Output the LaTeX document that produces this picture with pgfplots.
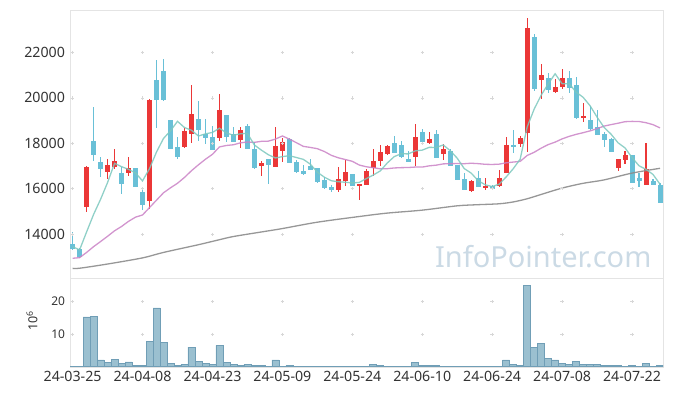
\documentclass[border=0pt]{standalone}
\usepackage{pgfplots}
\pgfplotsset{compat=1.18}
\usepackage{pgfplotstable}
\usepackage{fontspec}
\setmainfont{Noto Sans}

\definecolor{upc}{RGB}{235,55,55}
\definecolor{dnc}{RGB}{105,192,215}
\definecolor{maA}{RGB}{125,200,190}
\definecolor{maB}{RGB}{202,130,198}
\definecolor{maC}{RGB}{140,140,140}
\definecolor{volf}{RGB}{155,192,208}
\definecolor{vole}{RGB}{112,158,182}
\definecolor{framec}{RGB}{228,228,228}
\definecolor{gridc}{RGB}{215,215,215}
\definecolor{wmc}{RGB}{203,218,229}
\definecolor{lblc}{RGB}{51,51,51}

% i open high low close
\pgfplotstableread{
i o h l c
2 15209 16990 14988 16958
5 16752 17296 16414 17046
6 16973 17752 16855 17222
8 16679 17399 16576 16899
11 15473 19930 15106 19913
16 17840 18678 17810 18545
17 18428 20559 18016 19295
21 18222 20162 18119 19472
24 18134 18722 17810 18590
27 17017 17237 16576 17134
29 16973 18722 16973 17884
30 17678 18252 17193 18060
38 15958 16943 15870 16429
39 16355 17266 16135 16723
41 16140 16210 15500 16190
42 16179 16884 16179 16767
43 16929 17766 16576 17222
44 17237 17943 17002 17619
45 17516 17913 17472 17884
49 17384 18854 17002 18281
51 18002 18516 17990 18207
53 17531 17958 17266 17752
57 15914 16399 15870 16341
59 16040 16458 15958 16120
61 16105 16826 16090 16458
62 16679 18296 16679 17928
64 17987 18325 17825 18222
65 18472 23514 17634 23073
67 20765 21500 19957 21000
69 20236 20839 20200 20486
70 20471 21265 20383 20883
73 19119 19766 18942 19207
78 16929 17310 16767 17310
79 17281 17678 17090 17487
82 16179 18016 16179 16855
}\up

\pgfplotstableread{
i o h l c
0 13592 14077 13327 13356
1 13356 13400 12950 12989
3 18104 19604 17222 17487
4 17178 17399 16502 16884
7 16693 16973 15752 16223
9 16899 16899 16091 16091
10 15855 15988 15062 15297
12 20795 21677 18663 19883
13 21192 21721 19840 19883
14 19030 19030 17770 17770
15 17840 18281 17325 17384
18 19075 19869 18105 18604
19 18428 19060 17972 18252
20 18281 18781 17693 17693
22 19236 19236 18075 18266
23 18413 18737 18075 18075
25 18766 18869 17766 17766
26 17752 18075 16884 16929
28 17296 17296 16193 17061
31 18193 18222 17134 17134
32 17178 17266 16708 16737
33 16767 17031 16605 16649
34 17002 17296 16826 16826
35 16914 16914 16252 16296
36 16385 16532 16002 16047
37 16076 16164 15855 15944
40 16635 16635 16135 16135
46 18016 18310 17590 17590
47 17928 18090 17340 17384
48 17310 17649 17193 17193
50 18501 18648 18046 18046
52 18413 18590 17355 17355
54 17678 17737 17017 17017
55 17046 17046 16399 16399
56 16429 16679 15929 15929
58 16458 16767 16091 16091
60 16120 16179 16002 16002
63 17920 18590 17560 17870
66 22676 22823 20295 20398
68 20883 21103 20207 20339
71 20883 21177 20221 20412
72 20574 20912 19060 19134
74 19031 19619 18600 18619
75 18722 19472 18354 18384
76 18399 18516 17840 18163
77 18193 18222 17634 17634
80 17487 17487 16267 16267
81 16488 16679 16091 16355
83 16340 16443 16179 16179
84 16164 16237 15356 15356
}\down

\pgfplotstableread{
i ma5 ma20
0 13456 12942
1 13310 12971
2 14100 13199
3 14870 13454
4 15535 13678
5 16273 13910
6 17119 14151
7 16972 14342
8 16855 14567
9 16696 14752
10 16346 14847
11 16885 15173
12 17617 15498
13 18213 15823
14 18549 16042
15 18967 16241
16 18693 16499
17 18575 16794
18 18320 17055
19 18416 17299
20 18478 17516
21 18663 17840
22 18457 17905
23 18352 17935
24 18419 18020
25 18434 18056
26 17925 18042
27 17699 18087
28 17496 18095
29 17355 18185
30 17414 18323
31 17455 18184
32 17375 18027
33 17293 17865
34 17081 17818
35 16728 17763
36 16511 17639
37 16352 17471
38 16308 17362
39 16288 17286
40 16256 17208
41 16282 17043
42 16447 16968
43 16605 16926
44 16785 16877
45 17134 16883
46 17416 16916
47 17540 16929
48 17534 16935
49 17666 16955
50 17699 16954
51 17822 17008
52 17816 17039
53 17928 17094
54 17675 17104
55 17346 17109
56 16890 17103
57 16688 17123
58 16355 17106
59 16176 17076
60 16097 17069
61 16202 17083
62 16520 17141
63 16878 17174
64 17299 17204
65 18713 17464
66 19501 17604
67 20115 17785
68 20606 17942
69 21059 18052
70 20621 18194
71 20624 18304
72 20251 18393
73 20024 18466
74 19651 18546
75 19151 18646
76 18701 18757
77 18401 18822
78 18022 18883
79 17796 18951
80 17372 18964
81 17011 18959
82 16855 18906
83 16629 18820
84 16202 18677
}\mas

\pgfplotstableread{
i ma
0 12500
1 12505
5 12690
10 12960
13 13200
18 13540
21 13760
23 13900
27 14100
30 14250
35 14530
41 14780
45 14930
50 15060
55 15250
58 15300
61 15340
63 15420
65 15560
67 15750
70 16030
73 16240
76 16390
80 16690
84 16900
}\malong

\pgfplotstableread{
i v
0 0.2
1 0.2
2 15.3
3 15.6
4 2.1
5 1.35
6 2.3
7 1.0
8 1.45
9 0.4
10 0.4
11 7.9
12 18.1
13 7.6
14 1.0
15 0.4
16 0.7
17 6.0
18 1.65
19 1.0
20 0.7
21 6.6
22 1.35
23 0.7
24 0.4
25 0.7
26 0.4
27 0.4
28 0.15
29 2.1
30 0.15
31 0.4
32 0.15
33 0.1
34 0.1
35 0.1
36 0.1
37 0.05
38 0.15
39 0.15
40 0.05
41 0.1
42 0.1
43 0.7
44 0.4
45 0.1
46 0.1
47 0.1
48 0.1
49 1.35
50 0.4
51 0.4
52 0.4
53 0.1
54 0.1
55 0.1
56 0.1
57 0.1
58 0.1
59 0.1
60 0.05
61 0.1
62 2.1
63 0.7
64 0.4
65 25.0
66 6.0
67 7.05
68 2.6
69 2.1
70 1.0
71 0.7
72 1.65
73 0.7
74 0.7
75 0.7
76 0.4
77 0.4
78 0.4
79 0.1
80 0.4
81 0.1
82 1.0
83 0.1
84 0.4
}\vol

\pgfplotsset{
  common/.style={
    width=593bp, scale only axis,
    xmin=-0.37, xmax=84.43,
    axis line style={draw=framec},
    major tick length=0pt,
    tick style={draw=none},
    xtick={0,10,...,80},
    ticklabel style={text=lblc},
    scaled x ticks=false, scaled y ticks=false,
    clip=true,
  },
}

\begin{document}
\begin{tikzpicture}[x=1bp,y=1bp]
\useasboundingbox (0,0) rectangle (673,396);

% price panel
\begin{axis}[common,
  at={(70bp,117.7bp)}, anchor=south west, height=268bp,
  ymin=12062, ymax=23850,
  xticklabels={},
  ytick={14000,16000,18000,20000,22000},
  yticklabels={14000,16000,18000,20000,22000},
  yticklabel style={font=\fontsize{14.2bp}{16bp}\selectfont, xshift=-1.5bp},
]
\pgfplotsinvokeforeach{0,10,...,80}{
  \addplot[forget plot, only marks, mark=+, mark size=1.7bp, gridc, line width=0.6bp]
    coordinates {(#1,14000) (#1,16000) (#1,18000) (#1,20000) (#1,22000)};
}
\node[anchor=center, text=wmc, font=\fontsize{29bp}{32bp}\selectfont]
  at (axis cs:67.3,13000) {InfoPointer.com};

% wicks
\addplot[forget plot, draw=none, mark=none, error bars/.cd, y dir=both, y explicit,
  error mark=none, error bar style={draw=upc, solid, line width=1.1bp}]
  table[x=i, y expr={(\thisrow{h}+\thisrow{l})/2}, y error expr={(\thisrow{h}-\thisrow{l})/2}] {\up};
\addplot[forget plot, draw=none, mark=none, error bars/.cd, y dir=both, y explicit,
  error mark=none, error bar style={draw=dnc, solid, line width=1.1bp}]
  table[x=i, y expr={(\thisrow{h}+\thisrow{l})/2}, y error expr={(\thisrow{h}-\thisrow{l})/2}] {\down};
% bodies
\addplot[forget plot, draw=none, mark=none, error bars/.cd, y dir=both, y explicit,
  error mark=none, error bar style={draw=upc, solid, line width=5bp}]
  table[x=i, y expr={(\thisrow{o}+\thisrow{c})/2}, y error expr={abs(\thisrow{c}-\thisrow{o})/2}] {\up};
\addplot[forget plot, draw=none, mark=none, error bars/.cd, y dir=both, y explicit,
  error mark=none, error bar style={draw=dnc, solid, line width=5bp}]
  table[x=i, y expr={(\thisrow{o}+\thisrow{c})/2}, y error expr={abs(\thisrow{c}-\thisrow{o})/2}] {\down};

% moving averages
\addplot[maC, line width=1.3bp, opacity=0.9, smooth, mark=none] table[x=i, y=ma] {\malong};
\addplot[maB, line width=1.3bp, opacity=0.85, mark=none] table[x=i, y=ma20] {\mas};
\addplot[maA, line width=1.3bp, opacity=0.85, mark=none] table[x=i, y=ma5] {\mas};
\end{axis}

% volume panel
\begin{axis}[common,
  at={(70bp,29.3bp)}, anchor=south west, height=88.4bp,
  ymin=0, ymax=27.2,
  xticklabels={24-03-25,24-04-08,24-04-23,24-05-09,24-05-24,24-06-10,24-06-24,24-07-08,24-07-22},
  xticklabel style={font=\fontsize{14.2bp}{16bp}\selectfont, yshift=-0.5bp},
  ytick={10,20}, yticklabels={10,20},
  yticklabel style={font=\fontsize{12bp}{14bp}\selectfont, xshift=-1.5bp},
  ylabel={10\textsuperscript{6}},
  ylabel style={at={(rel axis cs:-0.064,0.52)}, anchor=center, rotate=0,
    font=\fontsize{12.5bp}{14bp}\selectfont, text=lblc},
]
\pgfplotsinvokeforeach{0,10,...,80}{
  \addplot[forget plot, only marks, mark=+, mark size=1.7bp, gridc, line width=0.6bp]
    coordinates {(#1,10) (#1,20)};
}
\addplot[ybar, bar width=7bp, fill=volf, draw=vole, line width=0.6bp] table[x=i, y=v] {\vol};
\end{axis}
\end{tikzpicture}
\end{document}
